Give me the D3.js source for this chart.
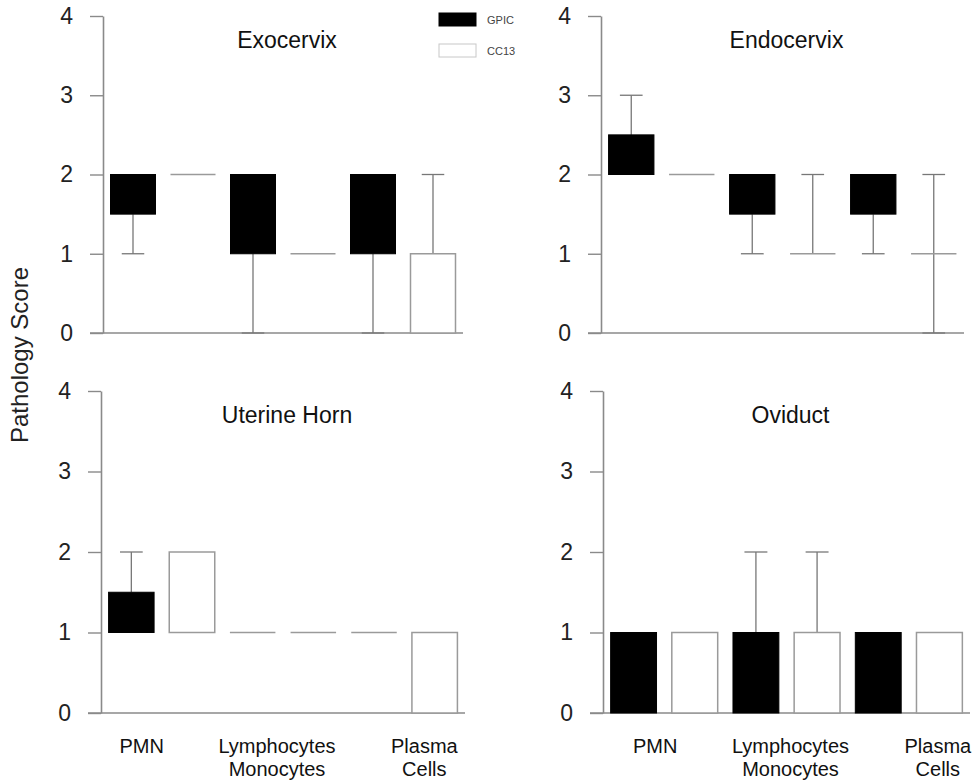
<!DOCTYPE html>
<html>
<head>
<meta charset="utf-8">
<script src="https://cdn.jsdelivr.net/npm/d3@7"></script>
<style>
  html, body { margin: 0; padding: 0; background: #fff; }
  svg { display: block; font-family: "Liberation Sans", Arial, sans-serif; }
</style>
</head>
<body>
<svg id="chart" width="974" height="780"></svg>
<script>
// ---------- DATA ----------
const panels = ["Exocervix", "Endocervix", "Uterine Horn", "Oviduct"];
const categories = ["PMN", "Lymphocytes\nMonocytes", "Plasma\nCells"];
const groups = ["GPIC", "CC13"];
const yTicks = [0, 1, 2, 3, 4];
// Each entry: [min, q1, q3, max] for PMN, Lymphocytes/Monocytes, Plasma Cells
const exocervixGPIC  = [[1, 1.5, 2, 2],   [0, 1, 2, 2],   [0, 1, 2, 2]];
const exocervixCC13  = [[2, 2, 2, 2],     [1, 1, 1, 1],   [0, 0, 1, 2]];
const endocervixGPIC = [[2, 2, 2.5, 3],   [1, 1.5, 2, 2], [1, 1.5, 2, 2]];
const endocervixCC13 = [[2, 2, 2, 2],     [1, 1, 1, 2],   [0, 1, 1, 2]];
const uterineGPIC    = [[1, 1, 1.5, 2],   [1, 1, 1, 1],   [1, 1, 1, 1]];
const uterineCC13    = [[1, 1, 2, 2],     [1, 1, 1, 1],   [0, 0, 1, 1]];
const oviductGPIC    = [[0, 0, 1, 1],     [0, 0, 1, 2],   [0, 0, 1, 1]];
const oviductCC13    = [[0, 0, 1, 1],     [0, 0, 1, 2],   [0, 0, 1, 1]];

const panelData = [
  [exocervixGPIC, exocervixCC13],
  [endocervixGPIC, endocervixCC13],
  [uterineGPIC, uterineCC13],
  [oviductGPIC, oviductCC13]
];

// ---------- LAYOUT ----------
const layout = [
  { x0: 103, x1: 463, y0: 333, y1: 16,  titleY: 48,  labels: false },
  { x0: 601, x1: 964, y0: 333, y1: 16,  titleY: 48,  labels: false },
  { x0: 101, x1: 465, y0: 713, y1: 391, titleY: 423, labels: true, labelDx: [-20, -6, 20] },
  { x0: 603, x1: 970, y0: 713, y1: 391, titleY: 423, labels: true, labelDx: [-9, 4, 29] }
];
const axisColor = "#8a8a8a";
const whiskerColor = "#777";
const outlineColor = "#9a9a9a";
const fillColor = { GPIC: "#000", CC13: "#fff" };

const svg = d3.select("#chart");

panels.forEach((name, pi) => {
  const L = layout[pi];
  const g = svg.append("g");
  const y = d3.scaleLinear().domain([0, 4]).range([L.y0, L.y1]);
  const xCat = d3.scaleBand().domain(categories).range([L.x0, L.x1]).padding(0);
  const xGrp = d3.scaleBand().domain(groups).range([0, xCat.bandwidth()])
    .paddingInner(0.25).paddingOuter(0.125);
  const bw = xGrp.bandwidth();

  // y axis
  const yAxis = d3.axisLeft(y).tickValues(yTicks).tickFormat(d3.format("d"))
    .tickSize(13).tickSizeOuter(0).tickPadding(17);
  const ya = g.append("g").attr("transform", `translate(${L.x0},0)`).call(yAxis);
  ya.select(".domain").attr("stroke", axisColor).attr("stroke-width", 1.6);
  ya.selectAll(".tick line").attr("stroke", axisColor).attr("stroke-width", 1.4);
  ya.selectAll(".tick text").attr("fill", "#222").style("font-size", "23px")
    .style("font-family", "'Liberation Sans', Arial, sans-serif");

  // x axis baseline
  g.append("line")
    .attr("x1", L.x0 - 13).attr("x2", L.x1)
    .attr("y1", y(0)).attr("y2", y(0))
    .attr("stroke", axisColor).attr("stroke-width", 1.6);

  // title
  g.append("text")
    .attr("x", (L.x0 + L.x1) / 2 + 4).attr("y", L.titleY)
    .attr("text-anchor", "middle").attr("fill", "#111")
    .style("font-size", "23px").text(name);

  groups.forEach((grp, gi) => {
    panelData[pi][gi].forEach((d, ci) => {
      const [mn, q1, q3, mx] = d;
      const left = xCat(categories[ci]) + xGrp(grp);
      const cx = left + bw / 2;
      const capW = bw / 2;
      // whiskers
      if (mx > q3) {
        g.append("line").attr("x1", cx).attr("x2", cx).attr("y1", y(q3)).attr("y2", y(mx))
          .attr("stroke", whiskerColor).attr("stroke-width", 1.3);
        g.append("line").attr("x1", cx - capW / 2).attr("x2", cx + capW / 2)
          .attr("y1", y(mx)).attr("y2", y(mx))
          .attr("stroke", whiskerColor).attr("stroke-width", 1.3);
      }
      if (mn < q1) {
        g.append("line").attr("x1", cx).attr("x2", cx).attr("y1", y(q1)).attr("y2", y(mn))
          .attr("stroke", whiskerColor).attr("stroke-width", 1.3);
        g.append("line").attr("x1", cx - capW / 2).attr("x2", cx + capW / 2)
          .attr("y1", y(mn)).attr("y2", y(mn))
          .attr("stroke", whiskerColor).attr("stroke-width", 1.3);
      }
      // box
      if (q3 > q1) {
        g.append("rect")
          .attr("x", left).attr("y", y(q3))
          .attr("width", bw).attr("height", y(q1) - y(q3))
          .attr("fill", fillColor[grp])
          .attr("stroke", grp === "CC13" ? outlineColor : "#000")
          .attr("stroke-width", grp === "CC13" ? 1.5 : 1);
      } else {
        g.append("line").attr("x1", left).attr("x2", left + bw)
          .attr("y1", y(q1)).attr("y2", y(q1))
          .attr("stroke", outlineColor).attr("stroke-width", 1.5);
      }
    });
  });

  // category labels
  if (L.labels) {
    categories.forEach((c, ci) => {
      const cx = xCat(c) + xCat.bandwidth() / 2 + L.labelDx[ci];
      const t = g.append("text").attr("text-anchor", "middle").attr("fill", "#111")
        .style("font-size", "20px");
      c.split("\n").forEach((line, li) => {
        t.append("tspan").attr("x", cx).attr("y", L.y0 + 40 + li * 23).text(line);
      });
    });
  }
});

// y-axis label
svg.append("text")
  .attr("transform", "translate(28,355) rotate(-90)")
  .attr("text-anchor", "middle").attr("fill", "#222")
  .style("font-size", "24px").text("Pathology Score");

// legend
const legend = svg.append("g");
groups.forEach((grp, i) => {
  legend.append("rect")
    .attr("x", 439).attr("y", 13 + i * 31).attr("width", 37).attr("height", 13)
    .attr("fill", fillColor[grp])
    .attr("stroke", grp === "CC13" ? "#c8c8c8" : "#000").attr("stroke-width", 1);
  legend.append("text")
    .attr("x", 487).attr("y", 24 + i * 31).attr("fill", "#444")
    .style("font-size", "11px").text(grp);
});
</script>
</body>
</html>
